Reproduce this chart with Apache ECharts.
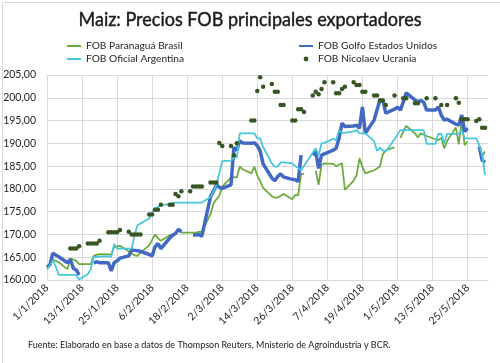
<!DOCTYPE html>
<html><head><meta charset="utf-8">
<script src="https://cdn.jsdelivr.net/npm/echarts@6/dist/echarts.min.js"></script>
<style>html,body{margin:0;padding:0;background:#fff}#c{width:500px;height:363px}</style>
</head><body><div id="c"></div>
<script>
// Trading days (d/m, 2018)
const tradeDays = [
'1/1','2/1','3/1','4/1','5/1','8/1','9/1','10/1','11/1','12/1','15/1','16/1','17/1','18/1','19/1','22/1','23/1','24/1','25/1','26/1','29/1','30/1','31/1',
'1/2','2/2','5/2','6/2','7/2','8/2','9/2','12/2','13/2','14/2','15/2','16/2','19/2','20/2','21/2','22/2','23/2','26/2','27/2','28/2',
'1/3','2/3','5/3','6/3','7/3','8/3','9/3','12/3','13/3','14/3','15/3','16/3','19/3','20/3','21/3','22/3','23/3','26/3','27/3','28/3','29/3','30/3',
'2/4','3/4','4/4','5/4','6/4','9/4','10/4','11/4','12/4','13/4','16/4','17/4','18/4','19/4','20/4','23/4','24/4','25/4','26/4','27/4','30/4',
'1/5','2/5','3/5','4/5','7/5','8/5','9/5','10/5','11/5','14/5','15/5','16/5','17/5','18/5','21/5','22/5','23/5','24/5','25/5','28/5','29/5','30/5','31/5'
];
const paranagua = [
162.6,163.4,164.4,164.2,163.9,162.4,164.7,164.5,164.2,163.5,163.5,163.5,165.3,165.5,165.7,165.6,165.6,167.2,167.4,167.5,166.3,165.8,165.4,
165.3,166.0,167.6,168.8,170.0,169.2,168.6,169.8,170.0,170.1,171.1,170.4,170.4,170.4,170.4,170.6,170.5,174.5,176.8,177.7,
178.5,180.5,182.5,182.6,182.5,184.9,184.3,183.4,184.9,182.9,181.7,180.2,178.4,178.1,178.1,178.5,178.9,177.7,178.7,178.6,183.3,183.3,
null,184.0,180.9,185.3,185.6,185.5,185.0,185.3,185.6,179.8,181.8,183.0,186.7,184.8,183.4,184.1,184.5,184.9,187.6,188.5,189.1,
null,191.2,192.6,193.8,192.2,191.3,192.2,191.9,191.6,190.9,190.7,191.2,188.9,190.5,193.5,189.8,195.0,189.6,190.4,null,null,187.2,188.2
];
const golfo = [
162.8,163.3,165.9,165.5,165.1,163.8,164.5,162.6,162.2,161.1,null,null,163.7,164.0,163.8,163.8,162.0,163.8,164.2,164.8,165.3,166.6,166.5,
166.4,166.3,165.6,165.3,167.3,168.0,166.9,169.2,169.8,170.2,171.1,170.6,null,169.9,169.9,170.0,169.6,178.3,179.5,180.9,
180.4,180.1,180.9,189.1,188.5,190.5,190.1,190.0,190.1,189.5,188.3,185.5,182.4,181.8,182.7,183.3,182.6,182.1,182.0,181.6,187.4,null,
187.4,188.2,184.5,187.4,187.7,188.5,188.9,191.1,194.4,193.7,193.8,194.0,193.3,198.0,192.2,195.1,197.3,199.5,199.5,196.6,197.5,
197.9,197.3,199.1,201.1,199.5,199.1,199.4,199.0,197.3,197.3,198.0,196.2,195.1,195.3,194.2,194.0,196.2,192.6,193.3,null,189.3,186.3,185.8
];
const oficialArg = [
162.3,163.2,164.3,163.0,161.1,161.1,161.1,161.1,161.1,160.1,161.3,162.4,165.1,165.1,165.2,165.2,165.2,167.9,166.9,166.9,166.9,166.9,170.0,
172.0,172.4,173.5,174.8,175.8,176.0,176.4,176.7,176.9,177.0,177.0,177.0,177.0,177.0,177.0,177.0,177.0,178.2,179.4,180.9,
183.5,186.1,186.2,186.9,186.9,192.2,192.2,192.2,192.2,191.1,191.1,189.2,185.6,184.9,184.9,185.8,185.8,185.6,185.0,184.6,184.1,null,
null,188.9,187.4,190.0,190.1,191.0,190.7,192.9,192.3,192.3,192.6,192.9,192.2,192.2,192.2,190.5,188.3,189.1,188.4,188.2,190.9,
null,192.9,192.9,192.9,192.9,192.9,192.9,192.9,189.9,189.9,192.1,192.1,190.0,192.1,192.1,192.1,192.9,191.1,191.1,191.1,189.5,187.5,183.0
];
const nicolaev = [
null,null,null,null,null,null,166.9,166.9,166.9,167.4,168.0,168.0,168.0,168.0,168.6,170.5,170.5,170.5,170.5,171.0,170.6,170.0,170.0,
170.0,170.0,174.4,174.4,175.4,175.4,176.5,176.5,176.5,178.9,178.4,179.5,179.5,180.5,180.5,180.5,180.5,181.4,181.4,181.4,
190.1,189.4,189.4,187.4,190.0,null,null,195.0,195.0,201.5,204.5,202.4,203.0,201.3,201.3,198.4,198.4,195.0,195.0,197.5,197.5,196.9,
200.5,201.3,200.8,201.9,203.4,203.4,201.0,201.0,201.9,202.4,203.4,202.8,202.8,201.3,201.3,200.5,200.5,199.4,199.4,198.4,200.5,
null,null,199.9,199.9,198.8,198.8,null,null,199.9,199.9,null,198.4,null,198.4,199.9,198.9,195.3,195.3,195.3,194.9,195.3,193.4,193.4
];
const seriesNames = ['FOB Paranaguá Brasil','FOB Golfo Estados Unidos','FOB Oficial Argentina','FOB Nicolaev Ucrania'];
const titleText = 'Maiz: Precios FOB principales exportadores';
const sourceText = 'Fuente: Elaborado en base a datos de Thompson Reuters, Mnisterio de Agroindustria y BCR.';
const axisStart = '1/1/2018', axisEnd = '1/6/2018';

function toUTC(s){const p=s.split('/');return Date.UTC(+(p[2]||2018),+p[1]-1,+p[0]);}
const DAY=86400000;
const t0=toUTC(axisStart), nDays=(toUTC(axisEnd)-t0)/DAY+1;
const categories=[];
for(let i=0;i<nDays;i++){const d=new Date(t0+i*DAY);categories.push(d.getUTCDate()+'/'+(d.getUTCMonth()+1)+'/'+d.getUTCFullYear());}
function pairs(vals){return tradeDays.map((d,i)=>[(toUTC(d)-t0)/DAY, vals[i]]);}

const FONT='Lato, "Open Sans", sans-serif';
const lineLeg=n=>({name:n,itemStyle:{opacity:0}});
const chart=echarts.init(document.getElementById('c'),null,{renderer:'canvas'});
chart.setOption({
  animation:false,
  backgroundColor:'#fff',
  legend:[
    {data:[lineLeg(seriesNames[0]),lineLeg(seriesNames[2])],orient:'vertical',left:61,top:36,itemWidth:14,itemHeight:6,itemGap:3,
     textStyle:{fontFamily:FONT,fontSize:10.2,color:'#262626'}},
    {data:[lineLeg(seriesNames[1]),{name:seriesNames[3],lineStyle:{opacity:0}}],orient:'vertical',left:293,top:36,itemWidth:14,itemHeight:6,itemGap:3,
     textStyle:{fontFamily:FONT,fontSize:10.2,color:'#262626'}}
  ],
  grid:{left:47,right:12,top:75,bottom:83,containLabel:false},
  xAxis:{type:'category',data:categories,boundaryGap:false,
    axisLine:{show:true,lineStyle:{color:'#d9d9d9'}},axisTick:{show:false},
    splitLine:{show:true,interval:11,lineStyle:{color:'#d9d9d9',width:1}},
    axisLabel:{interval:11,rotate:45,margin:6,fontFamily:FONT,fontSize:10.5,color:'#262626'}},
  yAxis:{type:'value',min:160,max:205,interval:5,
    axisLine:{show:false},axisTick:{show:false},
    splitLine:{lineStyle:{color:'#d9d9d9',width:1}},
    axisLabel:{margin:11,fontFamily:FONT,fontSize:10.5,color:'#262626',formatter:v=>v.toFixed(2).replace('.',',')}},
  series:[
    {name:seriesNames[0],type:'line',data:pairs(paranagua),symbol:'none',showSymbol:false,connectNulls:false,
     lineStyle:{color:'#6aaa3a',width:1.75},itemStyle:{color:'#6aaa3a'}},
    {name:seriesNames[1],type:'line',data:pairs(golfo),symbol:'none',showSymbol:false,connectNulls:false,
     lineStyle:{color:'#4169c4',width:3.5},itemStyle:{color:'#4169c4'}},
    {name:seriesNames[2],type:'line',data:pairs(oficialArg),symbol:'none',showSymbol:false,connectNulls:true,
     lineStyle:{color:'#45c6dc',width:1.75},itemStyle:{color:'#45c6dc'}},
    {name:seriesNames[3],type:'line',data:pairs(nicolaev),symbol:'circle',symbolSize:4.5,showSymbol:true,showAllSymbol:true,connectNulls:false,
     lineStyle:{width:0,opacity:0},itemStyle:{color:'#375623'}}
  ],
  graphic:[
    {type:'rect',left:0,top:0,shape:{width:499,height:362},style:{fill:'none',stroke:'#d9d9d9',lineWidth:1},silent:true},
    {type:'text',x:250,y:20,scaleX:0.9,silent:true,style:{text:titleText,fontFamily:FONT,fontSize:20,fill:'#1a1a1a',
      stroke:'#1a1a1a',lineWidth:0.45,textAlign:'center',textVerticalAlign:'middle'}},
    {type:'text',left:28,top:341,style:{text:sourceText,fontFamily:FONT,fontSize:9,fill:'#1a1a1a'}}
  ]
});
</script></body></html>
